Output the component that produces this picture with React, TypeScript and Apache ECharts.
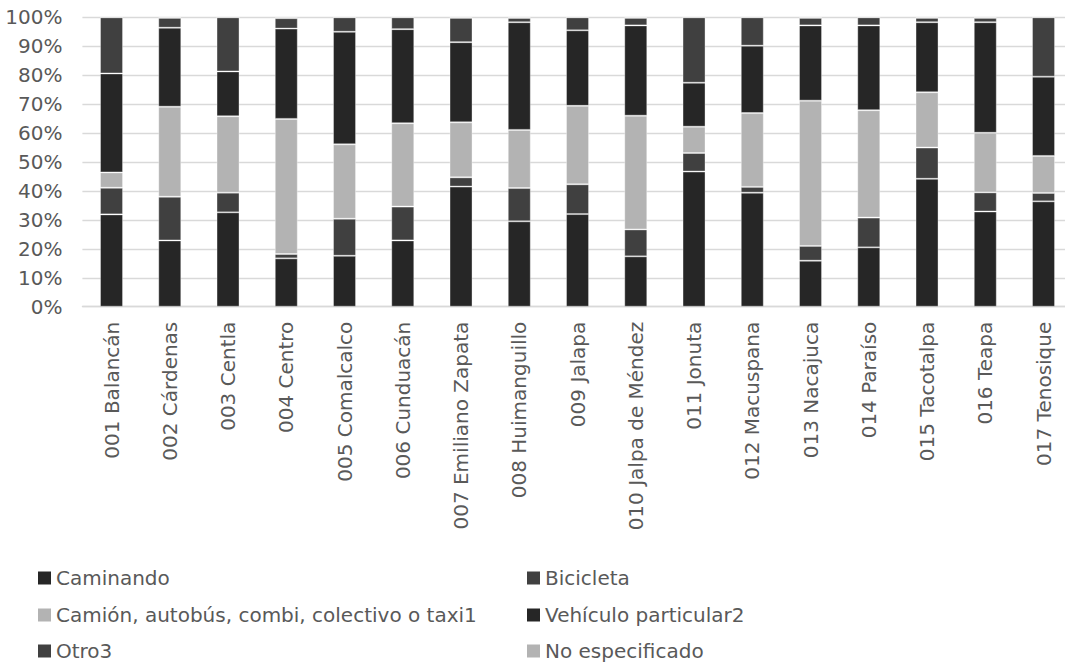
import React, { useEffect, useRef } from "react";
import * as echarts from "echarts";

const categories = [
  "001 Balancán",
  "002 Cárdenas",
  "003 Centla",
  "004 Centro",
  "005 Comalcalco",
  "006 Cunduacán",
  "007 Emiliano Zapata",
  "008 Huimanguillo",
  "009 Jalapa",
  "010 Jalpa de Méndez",
  "011 Jonuta",
  "012 Macuspana",
  "013 Nacajuca",
  "014 Paraíso",
  "015 Tacotalpa",
  "016 Teapa",
  "017 Tenosique",
];

const caminando = [31.9, 22.9, 32.6, 16.7, 17.6, 22.9, 41.5, 29.5, 32.0, 17.4, 46.7, 39.4, 15.9, 20.5, 44.2, 32.9, 36.4];
const bicicleta = [9.2, 15.1, 6.8, 1.5, 12.8, 11.7, 3.2, 11.5, 10.3, 9.3, 6.4, 2.0, 5.1, 10.3, 10.8, 6.6, 2.9];
const camion = [5.3, 31.1, 26.4, 46.7, 25.7, 28.8, 19.0, 20.1, 27.1, 39.3, 9.1, 25.5, 50.2, 37.1, 19.1, 20.6, 12.8];
const vehiculo = [34.2, 27.3, 15.5, 31.2, 38.9, 32.5, 27.7, 37.2, 26.1, 31.2, 15.2, 23.3, 26.0, 29.3, 24.2, 38.2, 27.4];
const otro = [19.4, 3.4, 18.7, 3.6, 5.0, 4.1, 8.4, 1.5, 4.5, 2.6, 22.6, 9.8, 2.6, 2.8, 1.5, 1.5, 20.5];
const noEspecificado = [0.0, 0.2, 0.0, 0.3, 0.0, 0.0, 0.2, 0.2, 0.0, 0.2, 0.0, 0.0, 0.2, 0.0, 0.2, 0.2, 0.0];

const seriesNames = [
  "Caminando",
  "Bicicleta",
  "Camión, autobús, combi, colectivo o taxi1",
  "Vehículo particular2",
  "Otro3",
  "No especificado",
];
const seriesData = [caminando, bicicleta, camion, vehiculo, otro, noEspecificado];
const seriesColors = ["#262626", "#404040", "#b3b3b3", "#262626", "#404040", "#b3b3b3"];

const FONT = "'DejaVu Sans', sans-serif";
const TEXT = "#595959";

export default function App() {
  const ref = useRef<HTMLDivElement>(null);
  useEffect(() => {
    if (!ref.current) return;
    const chart = echarts.init(ref.current, null, { renderer: "svg" });
    const legendPos = [
      { left: 38, top: 568 },
      { left: 527, top: 568 },
      { left: 38, top: 605 },
      { left: 527, top: 605 },
      { left: 38, top: 641 },
      { left: 527, top: 641 },
    ];
    chart.setOption({
      animation: false,
      textStyle: { fontFamily: FONT },
      grid: { left: 82.4, right: 7.35, top: 17.3, bottom: 665 - 306.7, containLabel: false },
      legend: seriesNames.map((n, i) => ({
        data: [n],
        left: legendPos[i].left,
        top: legendPos[i].top,
        orient: "horizontal",
        icon: "rect",
        itemWidth: 13,
        itemHeight: 13,
        padding: 0,
        itemStyle: { borderWidth: 0 },
        textStyle: { fontFamily: FONT, fontSize: 20, color: TEXT },
        selectedMode: false,
      })),
      xAxis: {
        type: "category",
        data: categories,
        axisTick: { show: false },
        axisLine: { lineStyle: { color: "#d9d9d9", width: 1.3 } },
        axisLabel: {
          rotate: 90,
          interval: 0,
          margin: 15,
          fontFamily: FONT,
          fontSize: 20,
          color: TEXT,
        },
      },
      yAxis: {
        type: "value",
        min: 0,
        max: 100,
        interval: 10,
        axisLine: { show: false },
        axisTick: { show: false },
        splitLine: { lineStyle: { color: "#d9d9d9", width: 1.3 } },
        axisLabel: {
          formatter: "{value}%",
          margin: 20,
          fontFamily: FONT,
          fontSize: 20,
          color: TEXT,
        },
      },
      series: seriesNames.map((n, i) => ({
        name: n,
        type: "bar",
        stack: "total",
        barWidth: 23,
        data: seriesData[i],
        itemStyle: {
          color: seriesColors[i],
          borderColor: "rgba(255,255,255,0.35)",
          borderWidth: 1,
        },
      })),
    });
    return () => chart.dispose();
  }, []);
  return (
    <div style={{ position: "fixed", left: 0, top: 0, width: 1065, height: 665, overflow: "hidden", background: "#fff" }}>
      <div ref={ref} style={{ width: 1080, height: 665 }} />
    </div>
  );
}
